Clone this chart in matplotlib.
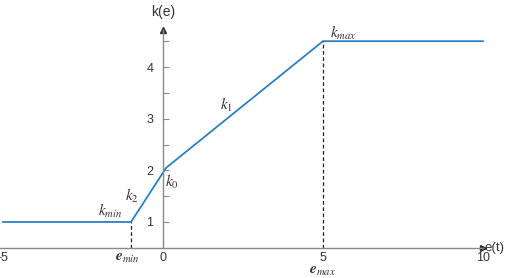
import matplotlib
matplotlib.use("Agg")
import matplotlib.pyplot as plt

plt.rcParams['font.family'] = ['Liberation Sans', 'DejaVu Sans']
plt.rcParams['mathtext.fontset'] = 'stix'

# piecewise gain curve k(e)
e_pts = [-5, -1, 0.1, 5, 10]
k_pts = [1, 1, 2.05, 4.5, 4.5]

e_min, e_max = -1, 5
k_min, k_max = 1, 4.5

x_ticks = [-5, 0, 5, 10]
y_major = [1, 2, 3, 4]
y_minor = [1.5, 2.5, 3.5, 4.5]

line_color = '#2b80c2'
axis_color = '#8a8a8a'

fig = plt.figure(figsize=(5.06, 2.78), dpi=100)
ax = fig.add_axes([0, 0, 1, 1])
ax.set_xlim(-5.094, 10.72)
ax.set_ylim(-0.084, 5.297)

# axes through the origin-ish
for s in ['top', 'right']:
    ax.spines[s].set_visible(False)
ax.spines['left'].set_position(('data', 0))
ax.spines['bottom'].set_position(('data', 0.5))
ax.spines['left'].set_bounds(0.5, 4.72)
ax.spines['bottom'].set_bounds(-5.1, 10.0)
for s in ['left', 'bottom']:
    ax.spines[s].set_color(axis_color)
    ax.spines[s].set_linewidth(1.0)
ax.plot(10.0, 0.5, '>', color='#333333', ms=5, clip_on=False)
ax.plot(0, 4.72, '^', color='#333333', ms=5, clip_on=False)

ax.set_xticks(x_ticks)
ax.set_xticklabels([str(t) for t in x_ticks])
ax.tick_params(axis='x', length=0, pad=3, labelsize=9, labelcolor='#333333')
ax.set_yticks(y_major)
ax.set_yticks(y_minor, minor=True)
ax.tick_params(axis='y', which='both', direction='in', length=4, width=0.8,
               color=axis_color, pad=7, labelsize=9, labelcolor='#333333')

ax.plot(e_pts, k_pts, color=line_color, lw=1.3)
ax.plot([e_min, e_min], [0.5, k_min], ls=(0, (3, 2)), color='#222222', lw=0.9)
ax.plot([e_max, e_max], [0.5, k_max], ls=(0, (3, 2)), color='#222222', lw=0.9)

txt = dict(color='#333333', ha='center', va='center')
ax.text(0, 5.06, 'k(e)', fontsize=10, **txt)
ax.text(10.06, 0.5, 'e(t)', fontsize=9.5, color='#333333', ha='left', va='center')
ax.text(5.62, 4.66, r'$k_{max}$', fontsize=11, **txt)
ax.text(1.97, 3.26, r'$k_1$', fontsize=11, **txt)
ax.text(0.28, 1.77, r'$k_0$', fontsize=11, **txt)
ax.text(-0.97, 1.5, r'$k_2$', fontsize=11, **txt)
ax.text(-1.66, 1.21, r'$k_{min}$', fontsize=11, **txt)
ax.text(-1.12, 0.30, r'$\mathbfit{e}_{min}$', fontsize=11, **txt)
ax.text(4.97, 0.05, r'$\mathbfit{e}_{max}$', fontsize=11, **txt)

fig.savefig('out.png', dpi=100)
